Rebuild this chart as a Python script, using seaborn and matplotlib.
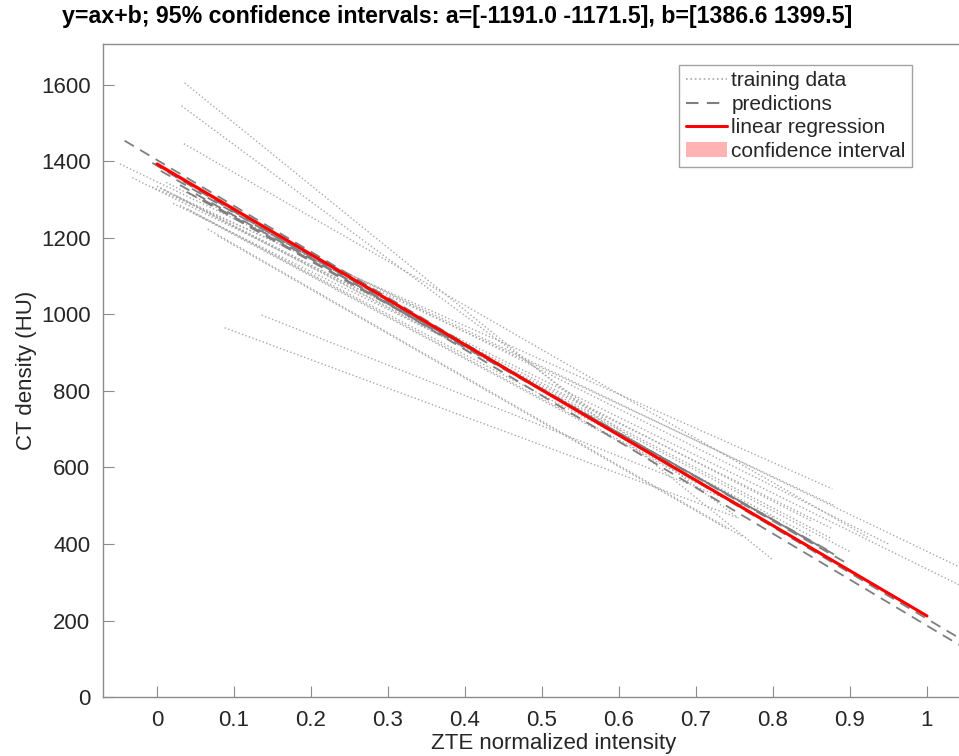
import numpy as np
import pandas as pd
import matplotlib
matplotlib.use('Agg')
import matplotlib.pyplot as plt
import seaborn as sns
from matplotlib.lines import Line2D
from matplotlib.patches import Patch

# training curves (dotted), start/end points
train_x0 = [0.036, 0.032, 0.035, -0.048, -0.032, -0.006, 0.000, 0.005, 0.010, 0.021,
            0.030, 0.066, 0.079, 0.040, 0.050, 0.088, 0.136, 0.012, 0.025]
train_y0 = [1605, 1545, 1446, 1393, 1357, 1333, 1335, 1330, 1325, 1290,
            1285, 1223, 1205, 1275, 1262, 965, 998, 1345, 1310]
train_x1 = [0.800, 0.755, 0.923, 1.042, 1.042, 0.877, 0.877, 0.850, 0.900, 0.877,
            0.850, 0.760, 0.740, 0.760, 0.700, 0.755, 0.800, 0.950, 0.880]
train_y1 = [358, 468, 418, 340, 293, 544, 413, 460, 380, 440,
            420, 420, 440, 500, 560, 468, 470, 400, 500]

# predictions (dashed)
pred_x0 = [-0.042, -0.006, 0.030, 0.039, 0.060, 0.005]
pred_y0 = [1454, 1396, 1338, 1320, 1300, 1375]
pred_x1 = [1.042, 1.042, 0.880, 0.870, 0.860, 0.900]
pred_y1 = [154, 136, 372, 385, 395, 345]

# regression line and its confidence band
fit_x = [0, 1]
fit_y = [1393, 212]
ci_lower = [1386.6, 208]
ci_upper = [1399.5, 216]

x_ticks = [0, 0.1, 0.2, 0.3, 0.4, 0.5, 0.6, 0.7, 0.8, 0.9, 1]
x_tick_labels = ['0', '0.1', '0.2', '0.3', '0.4', '0.5', '0.6', '0.7', '0.8', '0.9', '1']
y_ticks = [0, 200, 400, 600, 800, 1000, 1200, 1400, 1600]

title = 'y=ax+b; 95% confidence intervals: a=[-1191.0 -1171.5], b=[1386.6 1399.5]'


def to_long(x0, y0, x1, y1):
    rows = []
    for i in range(len(x0)):
        rows.append((i, x0[i], y0[i]))
        rows.append((i, x1[i], y1[i]))
    return pd.DataFrame(rows, columns=['curve', 'x', 'y'])


train_df = to_long(train_x0, train_y0, train_x1, train_y1)
pred_df = to_long(pred_x0, pred_y0, pred_x1, pred_y1)

sns.set_style('white')
plt.rcParams['font.family'] = ['Liberation Sans', 'DejaVu Sans']

fig = plt.figure(figsize=(9.59, 7.56), dpi=100)
ax = fig.add_axes([0.1074, 0.078, 0.9395, 0.864])

sns.lineplot(data=train_df, x='x', y='y', units='curve', estimator=None,
             color='#a8a8a8', lw=1.0, linestyle=':', ax=ax, legend=False)
sns.lineplot(data=pred_df, x='x', y='y', units='curve', estimator=None,
             color='#7f7f7f', lw=1.3, linestyle=(0, (6, 4)), ax=ax, legend=False)
ax.fill_between(fit_x, ci_lower, ci_upper, color='#ffb3b3', lw=0)
sns.lineplot(x=fit_x, y=fit_y, color='#ff0000', lw=2.2, ax=ax)

ax.set_xlim(-0.07, 1.1)
ax.set_ylim(0, 1707)
ax.set_xticks(x_ticks)
ax.set_xticklabels(x_tick_labels)
ax.set_yticks(y_ticks)
ax.tick_params(direction='in', length=8, width=0.8, color='#8c8c8c',
               labelsize=16, labelcolor='#262626', pad=9, bottom=True, left=True)
for s in ax.spines.values():
    s.set_color('#8c8c8c')
    s.set_linewidth(1.0)
ax.spines['right'].set_visible(False)

ax.set_xlabel('ZTE normalized intensity', fontsize=16, color='#262626', labelpad=2)
ax.set_ylabel('CT density (HU)', fontsize=16, color='#262626', labelpad=3)
fig.text(0.065, 1 - 17 / 756, title, fontsize=16.7, fontweight='bold', color='#000000',
         ha='left', va='center')

handles = [
    Line2D([], [], color='#a8a8a8', lw=1.2, linestyle=':'),
    Line2D([], [], color='#7f7f7f', lw=1.5, linestyle=(0, (6, 4))),
    Line2D([], [], color='#ff0000', lw=2.2),
    Patch(facecolor='#ffb3b3', edgecolor='none'),
]
labels = ['training data', 'predictions', 'linear regression', 'confidence interval']
leg = ax.legend(handles, labels, loc='upper right', bbox_to_anchor=(912 / 959, 1 - 65 / 756),
                bbox_transform=fig.transFigure, borderaxespad=0, fontsize=15,
                frameon=True, fancybox=False, edgecolor='#8c8c8c', handlelength=2.0,
                handletextpad=0.2, labelspacing=0.22, borderpad=0.3)
leg.get_frame().set_linewidth(1.0)

fig.savefig('out.png', dpi=100)
